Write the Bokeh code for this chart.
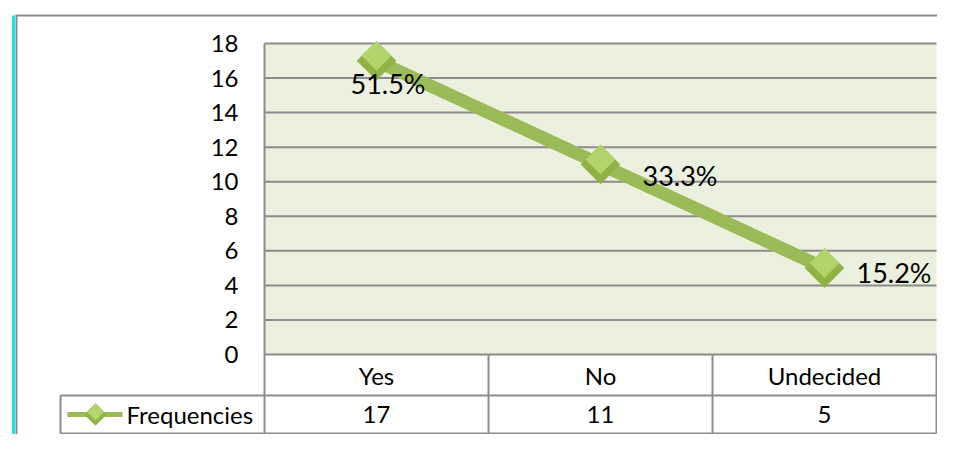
import math
from bokeh.plotting import figure
from bokeh.models import ColumnDataSource
from bokeh.core.properties import value
from bokeh.transform import dodge
from bokeh.embed import file_html
from bokeh.resources import INLINE

# ---- data ----
categories = ["Yes", "No", "Undecided"]
frequencies = [17, 11, 5]
percent_labels = ["51.5%", "33.3%", "15.2%"]
y_ticks = [0, 2, 4, 6, 8, 10, 12, 14, 16, 18]
series_name = "Frequencies"

# ---- layout (pixels inside the figure) ----
W, H = 937, 434
L, R, T, B = 264, 936, 43, 354          # plot area
ppx = (R - L) / len(categories)
ppy = (B - T) / 18.0
x0 = -0.5 - L / ppx
x1 = len(categories) - 0.5 + (W - R) / ppx
y1 = 18 + T / ppy
y0 = 0 - (H - B) / ppy

def dx(fx):
    return x0 + fx / ppx

def dy(fy):
    return y1 - fy / ppy

FONT = value("Lato")
GRID = "#8c8c8c"
GREEN = "#9bbb59"
ROT = math.pi / 4

p = figure(width=W, height=H, x_range=(x0, x1), y_range=(y0, y1),
           output_backend="svg", toolbar_location=None, min_border=0)
p.axis.visible = False
p.grid.visible = False
p.outline_line_color = None
p.background_fill_color = "white"
p.border_fill_color = "white"

xs = list(range(len(categories)))
xl, xr = -0.5, len(categories) - 0.5

# chart area frame
p.segment(x0=[dx(15)], y0=[dy(15)], x1=[x1], y1=[dy(15)], line_color="#8a8a8a", line_width=2)
p.segment(x0=[dx(16)], y0=[dy(15)], x1=[dx(16)], y1=[y0], line_color="#8a8a8a", line_width=2)
p.segment(x0=[dx(13)], y0=[dy(15)], x1=[dx(13)], y1=[y0], line_color="#19e6e6", line_width=3)

# plot area
p.quad(left=[xl], right=[xr], bottom=[0], top=[18], fill_color="#ebf0df", line_color=None)
grid_src = ColumnDataSource(dict(y=y_ticks[1:]))
p.segment(x0=xl, y0="y", x1=xr, y1="y", source=grid_src, line_color=GRID, line_width=2)

# y tick labels
tick_src = ColumnDataSource(dict(y=y_ticks, t=[str(v) for v in y_ticks]))
p.text(x=xl, y="y", text="t", source=tick_src, x_offset=-26, text_align="right",
       text_baseline="middle", text_font=FONT, text_font_size="24px", text_color="black")

# data table
row1 = dy(395)
row2 = dy(H - 1)
leg_left = dx(60)
col_edges = [xl + i for i in range(len(categories) + 1)]
p.segment(x0=[xl], y0=[18], x1=[xl], y1=[0], line_color=GRID, line_width=2)
p.segment(x0=col_edges, y0=[0] * len(col_edges), x1=col_edges, y1=[row2] * len(col_edges),
          line_color=GRID, line_width=2)
p.segment(x0=[xl, leg_left, leg_left, leg_left], y0=[0, row1, row1, row2],
          x1=[xr, xr, leg_left, xr], y1=[0, row1, row2, row2],
          line_color=GRID, line_width=2)

cat_src = ColumnDataSource(dict(x=xs, y=[row1 / 2] * len(xs), t=categories))
p.text(x="x", y="y", text="t", source=cat_src, text_align="center", text_baseline="middle",
       text_font=FONT, text_font_size="24px", text_color="black")
val_src = ColumnDataSource(dict(x=xs, y=[(row1 + row2) / 2] * len(xs), t=[str(v) for v in frequencies]))
p.text(x="x", y="y", text="t", source=val_src, text_align="center", text_baseline="middle",
       text_font=FONT, text_font_size="24px", text_color="black")

# legend key in table
ly = (row1 + row2) / 2
p.segment(x0=[dx(67)], y0=[ly], x1=[dx(122)], y1=[ly], line_color=GREEN, line_width=5)
p.scatter(x=[dx(95)], y=[ly], marker="square", angle=ROT, size=16, fill_color="#8fb444",
          line_color=None)
p.scatter(x=[dx(95)], y=[ly + 2.5 / ppy], marker="square", angle=ROT, size=12,
          fill_color="#b3d46e", line_color=None)
p.text(x=[dx(126)], y=[ly], text=[series_name], text_align="left", text_baseline="middle",
       text_font=FONT, text_font_size="24px", text_color="black")

# series
src = ColumnDataSource(dict(x=xs, y=frequencies, lab=percent_labels,
                            dxo=[-26, 42, 32], dyo=[23, 11, 4]))
p.line(x="x", y="y", source=src, line_color=GREEN, line_width=13)
p.scatter(x="x", y="y", source=src, marker="square", angle=ROT, size=28,
          fill_color="#8fb445", line_color=None)
p.scatter(x="x", y=dodge("y", 5 / ppy), source=src, marker="square", angle=ROT, size=21,
          fill_color="#b2d46c", line_color=None)
p.text(x="x", y="y", text="lab", source=src, x_offset="dxo", y_offset="dyo",
       text_align="left", text_baseline="middle", text_font=FONT,
       text_font_size="27px", text_color="black")

open("out.html", "w").write(file_html(p, INLINE))
